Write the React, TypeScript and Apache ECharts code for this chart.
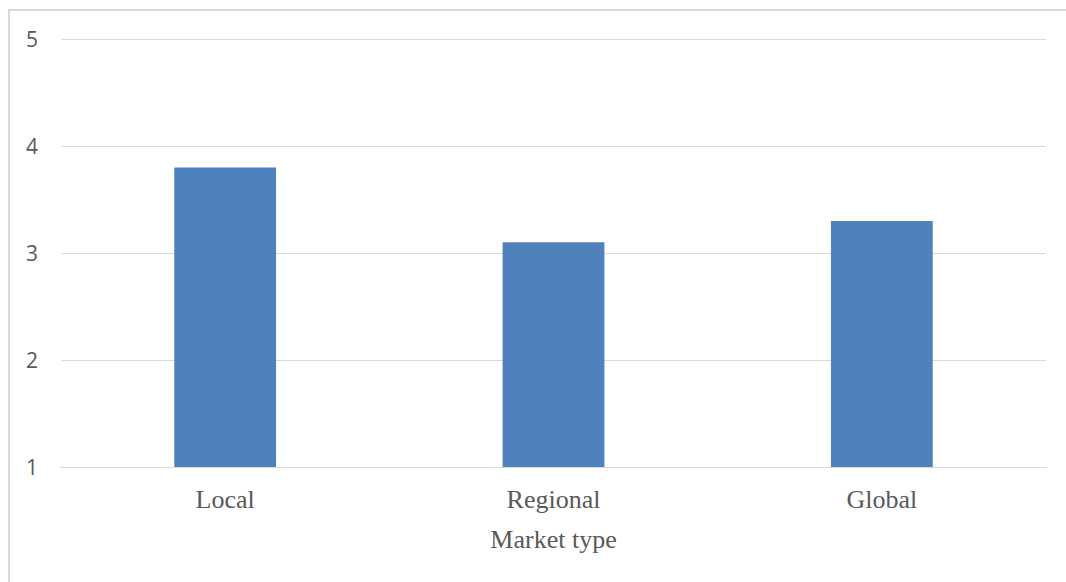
import React, { useEffect, useRef } from "react";
import * as echarts from "echarts";

// Mean score per market type
const categories = ["Local", "Regional", "Global"];
const values = [3.8, 3.1, 3.3];
const yTicks = { min: 1, max: 5, interval: 1 };
const xAxisTitle = "Market type";

export default function App() {
  const ref = useRef<HTMLDivElement>(null);

  useEffect(() => {
    if (!ref.current) return;
    const chart = echarts.init(ref.current, null, { renderer: "svg" });
    chart.setOption({
      animation: false,
      grid: { left: 51, top: 28, width: 985, height: 428, containLabel: false },
      xAxis: {
        type: "category",
        data: categories,
        name: xAxisTitle,
        nameLocation: "middle",
        nameGap: 59,
        nameTextStyle: {
          fontFamily: "Liberation Serif, Times New Roman, serif",
          fontSize: 26,
          color: "#595959",
        },
        axisLine: { show: true, lineStyle: { color: "#d9d9d9", width: 1 } },
        axisTick: { show: false },
        axisLabel: {
          fontFamily: "Liberation Serif, Times New Roman, serif",
          fontSize: 26,
          color: "#595959",
          margin: 19,
        },
      },
      yAxis: {
        type: "value",
        min: yTicks.min,
        max: yTicks.max,
        interval: yTicks.interval,
        axisLine: { show: false },
        axisTick: { show: false },
        splitLine: { lineStyle: { color: "#d9d9d9", width: 1 } },
        axisLabel: {
          fontFamily: "Open Sans, sans-serif",
          fontSize: 21,
          color: "#595959",
          margin: 23,
        },
      },
      series: [
        {
          type: "bar",
          data: values,
          barWidth: "31%",
          itemStyle: { color: "#4f81bd" },
        },
      ],
    });
    return () => chart.dispose();
  }, []);

  return (
    <div
      style={{
        position: "fixed",
        left: 8,
        top: 9,
        width: 1058,
        height: 573,
        boxSizing: "border-box",
        borderTop: "2px solid #d9d9d9",
        borderLeft: "2px solid #d9d9d9",
        overflow: "hidden",
        background: "#fff",
      }}
    >
      <div ref={ref} style={{ width: 1056, height: 571 }} />
    </div>
  );
}
